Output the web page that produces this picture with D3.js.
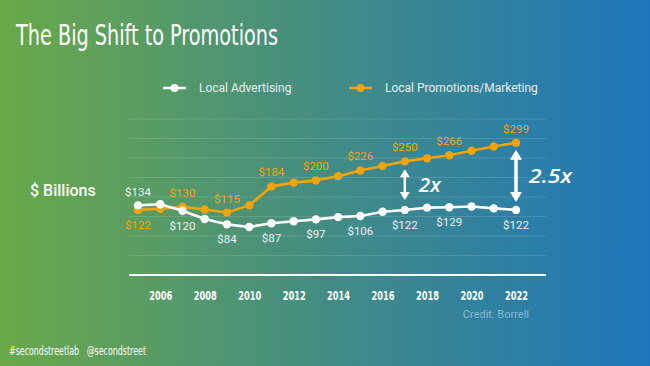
<!DOCTYPE html>
<html><head><meta charset="utf-8">
<script src="https://cdn.jsdelivr.net/npm/d3@7"></script>
<style>
html,body{margin:0;padding:0;overflow:hidden;}
svg{display:block;}
.cond{font-family:'Liberation Sans Narrow','DejaVu Sans',sans-serif;font-stretch:condensed;}
</style></head>
<body>
<script>
// ---- data ----
const years = d3.range(2005, 2023);
const advertising = [134,137,120,98,84,77,87,92,97,103,106,117,122,128,129,131,126,122];
const promotions  = [122,125,130,123,115,134,184,194,200,211,226,238,250,258,266,278,289,299];
const advLabelYears   = [2005,2007,2009,2011,2013,2015,2017,2019,2022];
const promoLabelYears = [2005,2007,2009,2011,2013,2015,2017,2019,2022];
const tickYears = [2006,2008,2010,2012,2014,2016,2018,2020,2022];
const seriesNames = ["Local Advertising","Local Promotions/Marketing"];
const compareYears = [2017, 2022];
const compareLabels = ["2x","2.5x"];

const W = 650, H = 366;
const svg = d3.select("body").append("svg").attr("width", W).attr("height", H);

const defs = svg.append("defs");
const grad = defs.append("linearGradient").attr("id","bg").attr("x1","0").attr("x2","1").attr("y1","0").attr("y2","0");
grad.append("stop").attr("offset","0%").attr("stop-color","#6aa949");
grad.append("stop").attr("offset","50%").attr("stop-color","#438c84");
grad.append("stop").attr("offset","100%").attr("stop-color","#1d76bb");
svg.append("rect").attr("width",W).attr("height",H).attr("fill","url(#bg)");

const x = d3.scaleLinear().domain([2005, 2022]).range([138, 516]);
const y = d3.scaleLinear().domain([0, 300]).range([256.2, 142.4]);
const grid = d3.scaleLinear().domain([0, 8]).range([275, 119]);

// gridlines
svg.append("g").selectAll("line").data(d3.range(1, 9)).join("line")
  .attr("x1", 129).attr("x2", 546)
  .attr("y1", d => grid(d)).attr("y2", d => grid(d))
  .attr("stroke", "rgba(255,255,255,0.13)").attr("stroke-width", 1.2);
// baseline
svg.append("line").attr("x1",129).attr("x2",546).attr("y1",grid(0)).attr("y2",grid(0))
  .attr("stroke","#ffffff").attr("stroke-width",2);

// x axis labels
const xAxis = d3.axisBottom(x).tickValues(tickYears).tickFormat(d3.format("d")).tickSize(0).tickPadding(0);
const ax = svg.append("g").attr("transform", `translate(0,${grid(0)})`).call(xAxis);
ax.select(".domain").remove();
ax.attr("font-family", null).attr("font-size", null);
ax.selectAll("text").attr("y", 25).attr("dy", 0).attr("class","cond")
  .attr("fill","#ffffff").attr("font-weight","bold").attr("font-size", 13)
  .attr("textLength", 23).attr("lengthAdjust","spacingAndGlyphs");

// title
svg.append("text").attr("x",16).attr("y",45).text("The Big Shift to Promotions").attr("class","cond")
  .attr("fill","#ffffff").attr("font-size",29).attr("textLength",262).attr("lengthAdjust","spacingAndGlyphs");

// $ Billions
svg.append("text").attr("x",30).attr("y",196).text("$ Billions")
  .attr("fill","#ffffff").attr("font-family","Roboto, sans-serif").attr("font-weight","500").attr("font-size",16);

// legend
const legendCols = ["#ffffff", "#f5a30a"];
const legendX = [163, 349];
seriesNames.forEach((n, i) => {
  const g = svg.append("g");
  g.append("line").attr("x1", legendX[i]).attr("x2", legendX[i] + 23).attr("y1", 88).attr("y2", 88)
    .attr("stroke", legendCols[i]).attr("stroke-width", 2.5);
  g.append("circle").attr("cx", legendX[i] + 11.5).attr("cy", 88).attr("r", 4).attr("fill", legendCols[i]);
  g.append("text").attr("x", legendX[i] + 36).attr("y", 92).text(n)
    .attr("fill", "#e6eeee").attr("font-family","Roboto, sans-serif").attr("font-size", 12);
});

const line = d3.line().x((d,i) => x(years[i])).y(d => y(d));

function drawSeries(vals, col) {
  svg.append("path").datum(vals).attr("d", line).attr("fill","none")
    .attr("stroke", col).attr("stroke-width", 2.6).attr("stroke-linejoin","round");
  svg.append("g").selectAll("circle").data(vals).join("circle")
    .attr("cx", (d,i) => x(years[i])).attr("cy", d => y(d)).attr("r", 4.2).attr("fill", col);
}
drawSeries(promotions, "#f5a30a");
drawSeries(advertising, "#ffffff");

// labels
const fmt = v => "$" + v;
svg.append("g").selectAll("text").data(promoLabelYears).join("text")
  .attr("x", d => x(d)).attr("y", d => y(promotions[d-2005]) + (d === 2005 ? 19 : -10))
  .attr("text-anchor","middle").text(d => fmt(promotions[d-2005]))
  .attr("fill","#f2a30f").attr("font-family","Roboto, sans-serif").attr("font-size",11.5);
svg.append("g").selectAll("text").data(advLabelYears).join("text")
  .attr("x", d => x(d)).attr("y", d => y(advertising[d-2005]) + (d === 2005 ? -9 : 19))
  .attr("text-anchor","middle").text(d => fmt(advertising[d-2005]))
  .attr("fill","#eef2f2").attr("font-family","Roboto, sans-serif").attr("font-size",11.5);

// comparison arrows
compareYears.forEach((yr, i) => {
  const cx = x(yr);
  const top = y(promotions[yr-2005]) + (i === 0 ? 8 : 7);
  const bot = y(advertising[yr-2005]) - (i === 0 ? 10 : 8);
  const hw = i === 0 ? 5 : 6, hh = i === 0 ? 8 : 10, sw = i === 0 ? 2.5 : 3.5;
  const g = svg.append("g").attr("fill","#ffffff");
  g.append("rect").attr("x", cx - sw/2).attr("y", top + hh - 1).attr("width", sw).attr("height", bot - top - 2*hh + 2);
  g.append("path").attr("d", `M${cx},${top} L${cx+hw},${top+hh} L${cx-hw},${top+hh} Z`);
  g.append("path").attr("d", `M${cx},${bot} L${cx+hw},${bot-hh} L${cx-hw},${bot-hh} Z`);
  g.append("text").attr("x", cx + (i === 0 ? 14 : 13)).attr("y", (top + bot)/2 + 7)
    .text(compareLabels[i]).attr("font-family","'Open Sans', sans-serif").attr("font-style","italic")
    .attr("font-weight","600").attr("font-size", 20)
    .attr("textLength", i === 0 ? 22 : 43).attr("lengthAdjust","spacingAndGlyphs");
});

// credit
svg.append("text").attr("x",529).attr("y",318).attr("text-anchor","end").text("Credit: Borrell")
  .attr("fill","rgba(255,255,255,0.45)").attr("font-family","Roboto, sans-serif").attr("font-size",11);

// footer
svg.append("text").attr("x",9).attr("y",355).text("#secondstreetlab   @secondstreet").attr("class","cond")
  .attr("fill","#ffffff").attr("font-size",13).attr("xml:space","preserve")
  .attr("textLength",137).attr("lengthAdjust","spacingAndGlyphs");
</script>
</body></html>
